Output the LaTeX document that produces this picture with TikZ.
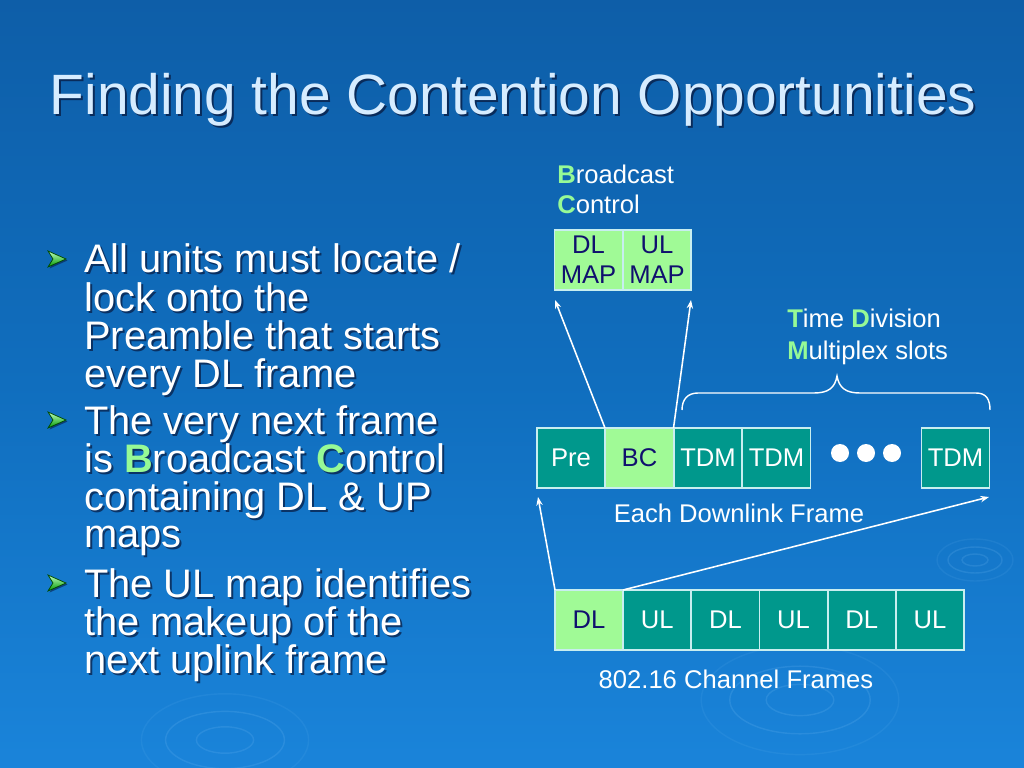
\documentclass[tikz,border=0pt]{standalone}
\usepackage{fontspec}
\setmainfont{Liberation Sans}
\usetikzlibrary{arrows.meta}
\definecolor{bgtop}{RGB}{14,94,168}
\definecolor{bgmid}{RGB}{16,110,190}
\definecolor{bgbot}{RGB}{26,132,218}
\definecolor{titlec}{RGB}{214,236,255}
\definecolor{shadowc}{RGB}{8,30,70}
\definecolor{hlc}{RGB}{150,250,150}
\definecolor{tealc}{RGB}{0,152,140}
\definecolor{lgreen}{RGB}{160,250,150}
\definecolor{cellline}{RGB}{200,238,240}
\definecolor{navy}{RGB}{16,16,110}
\definecolor{ripple}{RGB}{120,190,245}
\def\pxu{0.703125pt}
\newcommand\hl[1]{\textcolor{hlc}{\textbf{#1}}}
\newcommand\bline[4]{%
  \node[bshadow] at (#1+2,#2+2) {#4};
  \node[btext] (#3) at (#1,#2) {#4};}
\newcommand\chev[3]{%
  \fill[shadowc,opacity=0.6] (#1+1.5,#2+1.5) -- ++(18,8) -- ++(-18,8) -- ++(5,-8) -- cycle;
  \filldraw[draw=green!30!black,line width=0.5pt,top color=green!25!white,bottom color=green!60!black]
    (#1,#2) coordinate (#3) -- ++(18,8) -- ++(-18,8) -- ++(5,-8) -- cycle;}
\begin{document}
\begin{tikzpicture}[x=0.703125pt,y=-0.703125pt,
  btext/.style={anchor=base west,inner sep=0,text=white,font=\fontsize{28}{30}\selectfont},
  bshadow/.style={anchor=base west,inner sep=0,text=shadowc,opacity=0.75,
     font={\colorlet{hlc}{shadowc}\fontsize{28}{30}\selectfont}},
  lbl/.style={inner sep=0,text=white,font=\fontsize{18}{21}\selectfont},
  cell/.style={draw=cellline,line width=1pt,fill=tealc,text=white,inner sep=0,outer sep=0,
     minimum width=68*\pxu,minimum height=60*\pxu,font=\fontsize{18}{21}\selectfont},
  gcell/.style={cell,fill=lgreen,text=navy},
  arr/.style={draw=white,line width=1.1pt,-{Stealth[length=6pt,width=4.5pt]}},
  rip/.style={draw=ripple,opacity=0.18,line width=1pt}]
\useasboundingbox (0,0) rectangle (1024,768);
% background
\shade[top color=bgtop,bottom color=bgbot,middle color=bgmid] (0,0) rectangle (1024,768);
% ripples
\foreach \cx/\cy/\s in {975/560/1, 225/740/2.2, 800/700/2.6}{
  \draw[rip] (\cx,\cy) ellipse ({13*\s} and {6*\s});
  \draw[rip] (\cx,\cy) ellipse ({27*\s} and {13*\s});
  \draw[rip,opacity=0.1] (\cx,\cy) ellipse ({38*\s} and {21*\s});
}
% title
\node[anchor=base,inner sep=0,text=shadowc,opacity=0.8,font=\fontsize{40}{48}\selectfont] at (515,117) {Finding the Contention Opportunities};
\node[anchor=base,inner sep=0,text=titlec,font=\fontsize{40}{48}\selectfont] (title) at (513,115) {Finding the Contention Opportunities};
% bullets
\chev{48}{251}{b1}
\bline{84}{273}{l1}{All units must locate /}
\bline{84}{311}{l2}{lock onto the}
\bline{84}{349}{l3}{Preamble that starts}
\bline{84}{387}{l4}{every DL frame}
\chev{48}{412}{b2}
\bline{84}{434}{l5}{The very next frame}
\bline{84}{472}{l6}{is \hl{B}roadcast \hl{C}ontrol}
\bline{84}{510}{l7}{containing DL \& UP}
\bline{84}{547}{l8}{maps}
\chev{48}{575}{b3}
\bline{84}{597}{l9}{The UL map identifies}
\bline{84}{635}{l10}{the makeup of the}
\bline{84}{673}{l11}{next uplink frame}
% labels
\node[lbl,anchor=base west] (bc1) at (557,184) {\hl{B}roadcast};
\node[lbl,anchor=base west] (bc2) at (557,214) {\hl{C}ontrol};
\node[lbl,anchor=base west] (td1) at (787,328) {\hl{T}ime \hl{D}ivision};
\node[lbl,anchor=base west] (td2) at (787,359) {\hl{M}ultiplex slots};
\node[lbl,anchor=base] (edf) at (739,522) {Each Downlink Frame};
\node[lbl,anchor=base] (chf) at (736,688) {802.16 Channel Frames};
% map boxes
\node[gcell,align=center] (dlmap) at (588.5,260) {DL\\MAP};
\node[gcell,align=center] (ulmap) at (657,260) {UL\\MAP};
% downlink frame
\node[cell] (pre) at (571,458) {Pre};
\node[gcell] (bc) at (639.5,458) {BC};
\node[cell] (tdm1) at (708,458) {TDM};
\node[cell] (tdm2) at (776.5,458) {TDM};
\node[cell] (tdm3) at (955.5,458) {TDM};
\foreach \i/\x in {1/840,2/866,3/892}
  \node[circle,fill=white,inner sep=0,minimum size=18*\pxu] (dot\i) at (\x,453) {};
% channel frames
\node[gcell,text=navy] (c1) at (589,620) {DL};
\node[cell] (c2) at (657.2,620) {UL};
\node[cell] (c3) at (725.4,620) {DL};
\node[cell] (c4) at (793.6,620) {UL};
\node[cell] (c5) at (861.8,620) {DL};
\node[cell] (c6) at (930,620) {UL};
% brace
\draw[white,line width=1pt] (682,410) .. controls (682,399) and (688,393) .. (698,393)
  -- (814,393) .. controls (828,393) and (835,388) .. (837,376)
  .. controls (839,388) and (846,393) .. (860,393)
  -- (976,393) .. controls (986,393) and (990,399) .. (990,410);
% connectors
\coordinate (t1) at (555,300);
\coordinate (t2) at (691,300);
\coordinate (t3) at (538,497);
\coordinate (t4) at (989,497);
\draw[arr] (pre.north east) -- (t1);
\draw[arr] (bc.north east) -- (t2);
\draw[arr] (c1.north west) -- (t3);
\draw[arr] (c1.north east) -- (t4);
\end{tikzpicture}
\end{document}
